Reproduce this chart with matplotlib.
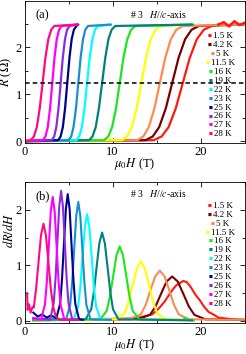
import matplotlib
matplotlib.use('Agg')
import matplotlib.pyplot as plt
from matplotlib.ticker import MultipleLocator

plt.rcParams['font.family'] = ['Liberation Serif', 'DejaVu Serif']
plt.rcParams['mathtext.fontset'] = 'stix'

temps = ['1.5 K', '4.2 K', '5 K', '11.5 K', '16 K', '19 K', '22 K', '23 K', '25 K', '26 K', '27 K', '28 K']
colors = ['#ff1a0d', '#7a0000', '#ff8a50', '#ffff00', '#1ee61e', '#00807f',
          '#00ffff', '#1a8fd0', '#00008f', '#8a2be2', '#ff00ff', '#ff0a80']

# panel (a): R levels and the fields where each curve reaches them
R_levels = [0.0, 0.02, 0.10, 0.30, 0.70, 1.235, 1.77, 2.17, 2.37, 2.45, 2.48]
H_a = {
    '1.5 K': [0, 14.66, 15.56, 16.35, 17.16, 17.95, 18.74, 19.55, 20.34, 21.24, 22.0],
    '4.2 K': [0, 13.73, 14.55, 15.28, 16.03, 16.75, 17.47, 18.22, 18.95, 19.77, 25.0],
    '5 K':   [0, 12.78, 13.48, 14.10, 14.74, 15.35, 15.96, 16.60, 17.22, 17.92, 25.0],
    '11.5 K': [0, 11.04, 11.64, 12.18, 12.72, 13.25, 13.78, 14.32, 14.86, 15.46, 19.0],
    '16 K':  [0, 9.02, 9.51, 9.94, 10.38, 10.80, 11.22, 11.66, 12.09, 12.58, 19.2],
    '19 K':  [0, 7.31, 7.72, 8.08, 8.44, 8.80, 9.16, 9.52, 9.88, 10.29, 19.0],
    '22 K':  [0, 5.88, 6.21, 6.50, 6.81, 7.10, 7.39, 7.70, 7.99, 8.32, 9.8],
    '23 K':  [0, 5.00, 5.30, 5.56, 5.84, 6.10, 6.36, 6.64, 6.90, 7.20, 9.8],
    '25 K':  [0, 3.82, 4.10, 4.35, 4.60, 4.85, 5.10, 5.35, 5.60, 5.88, 6.1],
    '26 K':  [0, 3.09, 3.37, 3.61, 3.86, 4.10, 4.34, 4.59, 4.83, 5.11, 6.0],
    '27 K':  [0, 2.09, 2.38, 2.64, 2.90, 3.15, 3.40, 3.66, 3.92, 4.21, 6.0],
    '28 K':  [0, 0.71, 1.07, 1.40, 1.73, 2.05, 2.37, 2.70, 3.03, 3.39, 6.0],
}
# noisy high-field tail of the 1.5 K curve
H_tail_15 = [22.0, 22.6, 23.2, 23.8, 24.4, 25.0]
R_tail_15 = [2.48, 2.53, 2.44, 2.55, 2.47, 2.52]
R_cut = 1.235

# panel (b): dR/dH
H_b = {
    '1.5 K': [1.0, 12.0, 13.5, 14.5, 15.2, 15.9, 16.6, 17.2, 17.6, 18.0, 18.4, 18.9, 19.4, 19.9, 20.4, 20.9, 21.4, 22.0, 22.6, 23.5, 25.0],
    '4.2 K': [1.0, 12.97, 14.23, 14.86, 15.49, 16.12, 16.75, 17.38, 18.01, 18.64, 19.27, 20.53, 25.0],
    '5 K':   [1.0, 12.14, 13.21, 13.75, 14.28, 14.82, 15.35, 15.89, 16.42, 16.96, 17.49, 18.56, 25.0],
    '11.5 K': [1.0, 10.44, 11.36, 11.82, 12.28, 12.74, 13.20, 13.66, 14.12, 14.58, 15.04, 15.96, 19.0],
    '16 K':  [1.0, 8.58, 9.32, 9.69, 10.06, 10.43, 10.80, 11.17, 11.54, 11.91, 12.28, 13.02, 18.0, 18.3, 18.6, 19.2],
    '19 K':  [1.0, 6.94, 7.56, 7.87, 8.18, 8.49, 8.80, 9.11, 9.42, 9.73, 10.04, 10.66, 19.0],
    '22 K':  [1.0, 5.57, 6.08, 6.34, 6.59, 6.85, 7.10, 7.36, 7.61, 7.87, 8.12, 8.63, 9.8],
    '23 K':  [1.0, 4.72, 5.18, 5.41, 5.64, 5.87, 6.10, 6.33, 6.56, 6.79, 7.02, 7.48, 9.8],
    '25 K':  [1.0, 1.5, 2.0, 2.5, 3.0, 3.61, 4.04, 4.25, 4.47, 4.69, 4.90, 5.12, 5.33, 5.55, 5.76, 6.19, 6.6],
    '26 K':  [1.0, 2.90, 3.31, 3.52, 3.73, 3.94, 4.15, 4.36, 4.57, 4.78, 4.99, 5.41, 6.0],
    '27 K':  [1.0, 1.88, 2.32, 2.54, 2.76, 2.98, 3.20, 3.42, 3.64, 3.86, 4.08, 4.52, 6.0],
    '28 K':  [0.3, 0.35, 0.5, 0.7, 0.9, 1.05, 1.31, 1.59, 1.87, 2.15, 2.43, 2.71, 2.99, 3.27, 3.55, 4.0, 6.0],
}
dR_b = {
    '1.5 K': [0.02, 0.03, 0.08, 0.12, 0.22, 0.35, 0.52, 0.64, 0.68, 0.72, 0.70, 0.60, 0.47, 0.37, 0.25, 0.16, 0.12, 0.06, 0.05, 0.03, 0.02],
    '4.2 K': [0.01, 0.04, 0.11, 0.26, 0.49, 0.71, 0.80, 0.71, 0.49, 0.26, 0.11, 0.03, 0.02],
    '5 K':   [0.01, 0.05, 0.12, 0.29, 0.55, 0.80, 0.905, 0.80, 0.55, 0.29, 0.12, 0.03, 0.02],
    '11.5 K': [0.01, 0.03, 0.14, 0.35, 0.65, 0.94, 1.07, 0.94, 0.65, 0.35, 0.14, 0.03, 0.01],
    '16 K':  [0.02, 0.03, 0.18, 0.44, 0.81, 1.18, 1.34, 1.18, 0.81, 0.44, 0.18, 0.03, 0.02, 0.06, 0.02, 0.01],
    '19 K':  [0.02, 0.03, 0.21, 0.52, 0.97, 1.40, 1.59, 1.40, 0.97, 0.52, 0.21, 0.03, 0.01],
    '22 K':  [0.03, 0.03, 0.26, 0.62, 1.17, 1.69, 1.92, 1.69, 1.17, 0.62, 0.26, 0.03, 0.02],
    '23 K':  [0.04, 0.03, 0.29, 0.70, 1.30, 1.89, 2.14, 1.89, 1.30, 0.70, 0.29, 0.03, 0.02],
    '25 K':  [0.15, 0.08, 0.12, 0.06, 0.10, 0.05, 0.31, 0.74, 1.38, 2.01, 2.28, 2.01, 1.38, 0.74, 0.31, 0.03, 0.02],
    '26 K':  [0.05, 0.02, 0.32, 0.76, 1.42, 2.06, 2.34, 2.06, 1.42, 0.76, 0.32, 0.03, 0.02],
    '27 K':  [0.05, 0.02, 0.30, 0.72, 1.35, 1.97, 2.23, 1.97, 1.35, 0.72, 0.30, 0.03, 0.02],
    '28 K':  [0.5, 0.2, 0.3, 0.15, 0.25, 0.24, 0.57, 1.06, 1.54, 1.75, 1.54, 1.06, 0.57, 0.24, 0.08, 0.02, 0.02],
}

fig = plt.figure(figsize=(2.46, 3.54), dpi=100)
ax_a = fig.add_axes([0.0996, 0.596, 0.896, 0.401])
ax_b = fig.add_axes([0.0996, 0.087, 0.896, 0.399])

for T, c in zip(temps, colors):
    ax_a.plot(H_a[T], R_levels, color=c, lw=1.6, solid_capstyle='round')
    ax_b.plot(H_b[T], dR_b[T], color=c, lw=1.5)
ax_a.plot(H_tail_15, R_tail_15, color=colors[0], lw=1.8)
ax_a.axhline(R_cut, color='black', ls='--', lw=1.1, dashes=(3, 2))

for ax, ylim in ((ax_a, (-0.04, 2.98)), (ax_b, (-0.04, 2.5))):
    ax.set_xlim(0, 25)
    ax.set_ylim(*ylim)
    ax.xaxis.set_major_locator(MultipleLocator(10))
    ax.xaxis.set_minor_locator(MultipleLocator(5))
    ax.yaxis.set_major_locator(MultipleLocator(1))
    ax.yaxis.set_minor_locator(MultipleLocator(0.5))
    ax.tick_params(which='both', direction='in', top=True, right=True, labelsize=9, pad=2)
    ax.tick_params(which='major', length=3.5, width=0.6)
    ax.tick_params(which='minor', length=2.5, width=0.6)
    for s in ax.spines.values():
        s.set_linewidth(0.6)
    ax.set_xlabel(r'$\mu_0H$ (T)', fontsize=9, labelpad=-1)

    # legend: coloured dot left of each centred label
    y0 = 0.754 if ax is ax_a else 0.831
    for i, (T, c) in enumerate(zip(temps, colors)):
        t = ax.text(0.9, y0 - i * 0.0630, T, transform=ax.transAxes,
                    ha='center', va='center', fontsize=6.5)
        ax.annotate('■', xy=(0, 0.5), xycoords=t, xytext=(-1, 0),
                    textcoords='offset points', ha='right', va='center',
                    fontsize=3, color=c, family='DejaVu Sans')

ax_a.text(0.048, 0.90, '(a)', transform=ax_a.transAxes, fontsize=9, va='center')
ax_b.text(0.048, 0.90, '(b)', transform=ax_b.transAxes, fontsize=9, va='center')
ax_a.text(0.478, 0.905, r'# 3   $H$//$c$-axis', transform=ax_a.transAxes, fontsize=7, va='center')
ax_b.text(0.478, 0.915, r'# 3   $H$//$c$-axis', transform=ax_b.transAxes, fontsize=7, va='center')

ax_a.set_ylabel(r'$R$ ($\Omega$)', fontsize=9, labelpad=1)
ax_b.set_ylabel(r'$dR/dH$', fontsize=9)
ax_b.yaxis.set_label_coords(-0.04, 0.66)

fig.savefig('out.png', dpi=100)
